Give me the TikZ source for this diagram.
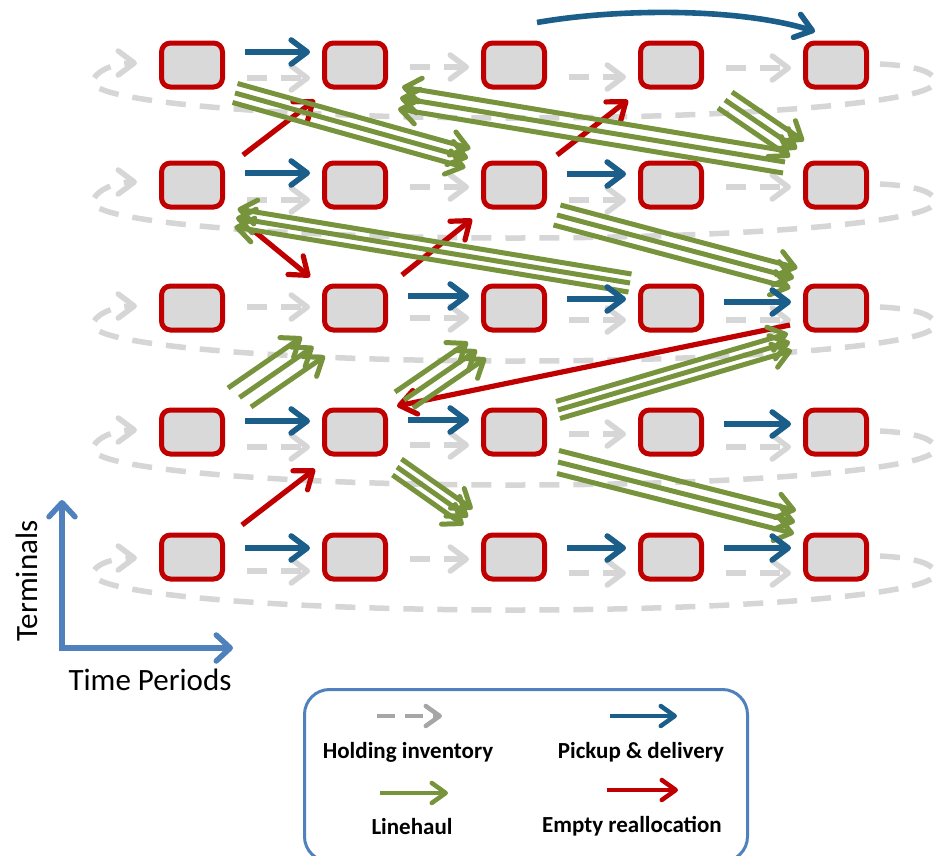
\documentclass[tikz,border=0pt]{standalone}
\usepackage{fontspec}
\setmainfont{Carlito}
\usetikzlibrary{arrows.meta,calc}

\definecolor{boxred}{HTML}{C00000}
\definecolor{boxfill}{HTML}{D9D9D9}
\definecolor{pdblue}{HTML}{1B5E8A}
\definecolor{lhgreen}{HTML}{77933C}
\definecolor{erred}{HTML}{C00000}
\definecolor{holdgray}{HTML}{D6D6D6}
\definecolor{legendgray}{HTML}{A6A6A6}
\definecolor{axisblue}{HTML}{4F81BD}

% three parallel linehaul arrows: from, to, offset between copies
\newcommand\linehaul[4]{%
  \foreach \k in {-1,0,1}
    \draw[lh] ([shift={({\k*(#3)},{\k*(#4)})}]#1) -- ([shift={({\k*(#3)},{\k*(#4)})}]#2);
}
% pickup & delivery arrow between two terminals of one row
\newcommand\pdarrow[3]{%
  \draw[pd] ($(#1.east)+(20,#3)$) -- ($(#2.west)+(-12,#3)$);
}

\begin{document}
\begin{tikzpicture}[x=1pt,y=-1pt,
  term/.style={draw=boxred, fill=boxfill, line width=5pt, rounded corners=9pt,
    minimum width=61pt, minimum height=44pt, inner sep=0pt},
  barb/.style={-{Straight Barb[round,length=16pt,width=24pt]}},
  hold/.style={barb, draw=holdgray, line width=5.5pt, dash pattern=on 20pt off 14pt},
  pd/.style={barb, draw=pdblue, line width=5.6pt},
  lh/.style={barb, draw=lhgreen, line width=5pt},
  er/.style={barb, draw=erred, line width=5.2pt},
  axis/.style={draw=axisblue, line width=5.5pt, miter limit=4,
    {Straight Barb[round,length=14pt,width=26pt]}-{Straight Barb[round,length=14pt,width=26pt]}},
  legtext/.style={font=\fontsize{23}{27}\selectfont\bfseries, anchor=base, inner sep=0pt},
  axtext/.style={font=\fontsize{31}{37}\selectfont, anchor=base, inner sep=0pt},
]
\useasboundingbox (0,0) rectangle (943,855);

% holding-inventory loops, one per terminal row
\foreach \r/\y/\a in {1/65/-2, 2/185/-3, 3/308/-2, 4/432/-2, 5/557/1} {
  \draw[hold] (880,{\y-1}) .. controls (920,{\y+1}) and (935,{\y+8}) .. (935,{\y+17})
     .. controls (935,{\y+37}) and (746,{\y+53}) .. (514,{\y+53})
     .. controls (282,{\y+53}) and (93,{\y+37}) .. (93,{\y+17})
     .. controls (93,{\y+8}) and (112,{\y+\a}) .. (137,{\y+\a});
}

% terminals: columns are time periods, rows are terminals
\foreach \c/\x in {1/192,2/355,3/514,4/671,5/836}
  \foreach \r/\y in {1/65,2/185,3/308,4/432,5/557}
    \node[term] (n\c\r) at (\x,\y) {};

% holding arrows between consecutive periods
\foreach \r/\b/\c/\d/\e in
  {1/13/2/12/3, 2/15/2/15/2, 3/-1/10/12/12, 4/15/13/2/15, 5/14/2/16/16} {
  \draw[hold] ($(n1\r.east)+(22,\b)$) -- ($(n2\r.west)+(-12,\b)$);
  \draw[hold] ($(n2\r.east)+(22,\c)$) -- ($(n3\r.west)+(-12,\c)$);
  \draw[hold] ($(n3\r.east)+(22,\d)$) -- ($(n4\r.west)+(-12,\d)$);
  \draw[hold] ($(n4\r.east)+(22,\e)$) -- ($(n5\r.west)+(-12,\e)$);
}

% empty reallocation
\draw[er] ($(n12)+(51,-30)$) -- ($(n21)+(-40,35)$);
\draw[er] ($(n32)+(43,-30)$) -- ($(n41)+(-43,35)$);
\draw[er] ($(n12)+(62,46)$) -- ($(n23)+(-45,-31)$);
\draw[er] ($(n23)+(47,-33)$) -- ($(n32)+(-42,34)$);
\draw[er] ($(n15)+(50,-32)$) -- ($(n24)+(-40,37)$);
\draw[er] ($(n53)+(-46,17)$) -- ($(n24)+(42,-26)$);

% linehaul
\coordinate (g1a) at (235,93);   \coordinate (g1b) at (468,158);
\coordinate (g2a) at (725,100);  \coordinate (g2b) at (797,149);
\coordinate (g3a) at (785,162);  \coordinate (g3b) at (400,98);
\coordinate (g4a) at (630,283);  \coordinate (g4b) at (236,218);
\coordinate (g5a) at (557,215);  \coordinate (g5b) at (794,278);
\coordinate (g6a) at (239.5,397.5); \coordinate (g6b) at (313.5,346.5);
\coordinate (g7a) at (404,400);  \coordinate (g7b) at (477,350);
\coordinate (g8a) at (558,410);  \coordinate (g8b) at (790,342);
\coordinate (g9a) at (397,467);  \coordinate (g9b) at (468,517);
\coordinate (g10a) at (558,462); \coordinate (g10b) at (795,522);
\linehaul{g1a}{g1b}{-2.5}{9.5}
\linehaul{g2a}{g2b}{-7}{8}
\linehaul{g3a}{g3b}{2}{-11}
\linehaul{g4a}{g4b}{1.5}{-9}
\linehaul{g5a}{g5b}{-3.5}{10}
\linehaul{g6a}{g6b}{11.5}{9.5}
\linehaul{g7a}{g7b}{9}{8}
\linehaul{g8a}{g8b}{2}{8.5}
\linehaul{g9a}{g9b}{-4.5}{8}
\linehaul{g10a}{g10b}{-1}{11.5}

% pickup & delivery
\pdarrow{n11}{n21}{-13}
\pdarrow{n12}{n22}{-12}
\pdarrow{n32}{n42}{-11}
\pdarrow{n23}{n33}{-12}
\pdarrow{n33}{n43}{-9}
\pdarrow{n43}{n53}{-6}
\pdarrow{n14}{n24}{-11}
\pdarrow{n24}{n34}{-12}
\pdarrow{n44}{n54}{-8}
\pdarrow{n15}{n25}{-9}
\pdarrow{n35}{n45}{-9}
\pdarrow{n45}{n55}{-9}
\draw[pd] ($(n31.north)+(23,-18)$) .. controls (620,8) and (740,8) .. ($(n51.north west)+(12,-9)$);

% axes
\coordinate (ytop) at (62,500);
\coordinate (corner) at (62,648);
\coordinate (xend) at (233,648);
\draw[axis] (ytop) -- (corner) -- (xend);
\node[axtext, rotate=90] (ylab) at (37,581) {Terminals};
\node[axtext] (xlab) at (150,690) {Time Periods};

% legend
\node[draw=axisblue, line width=3pt, rounded corners=25pt, anchor=north west,
      minimum width=443pt, minimum height=172pt, inner sep=0pt] (legend) at (303,688) {};
\coordinate (lh1) at (377,716); \coordinate (lh2) at (442,716);
\coordinate (lp1) at (610,716); \coordinate (lp2) at (677,716);
\coordinate (ll1) at (380,793); \coordinate (ll2) at (448,793);
\coordinate (le1) at (607,790); \coordinate (le2) at (678,790);
\begin{scope}[barb/.style={-{Straight Barb[round,length=14pt,width=20pt]}}]
\draw[barb, draw=legendgray, line width=4.5pt, dash pattern=on 18pt off 10pt] (lh1) -- (lh2);
\draw[pd, line width=4.5pt] (lp1) -- (lp2);
\draw[lh, line width=4.5pt] (ll1) -- (ll2);
\draw[er, line width=4.5pt] (le1) -- (le2);
\end{scope}
\node[legtext] (t1) at (408,758) {Holding inventory};
\node[legtext] (t2) at (641,758) {Pickup \& delivery};
\node[legtext] (t3) at (412,834) {Linehaul};
\node[legtext] (t4) at (632,832) {Empty reallocation};
\end{tikzpicture}
\end{document}
